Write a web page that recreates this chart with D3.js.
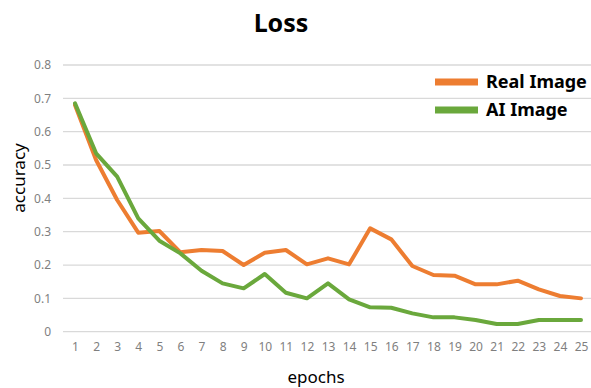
<!DOCTYPE html>
<html><head><meta charset="utf-8">
<script src="https://cdn.jsdelivr.net/npm/d3@7"></script>
<style>
html,body{margin:0;padding:0;background:#fff;}
svg{display:block;}
</style></head>
<body>
<svg id="chart" width="591" height="388"></svg>
<script>
const epochs = [1,2,3,4,5,6,7,8,9,10,11,12,13,14,15,16,17,18,19,20,21,22,23,24,25];
const realImage = [0.68,0.515,0.395,0.297,0.302,0.238,0.245,0.242,0.200,0.237,0.245,0.202,0.220,0.202,0.310,0.277,0.197,0.170,0.168,0.142,0.142,0.153,0.127,0.107,0.100];
const aiImage = [0.685,0.535,0.465,0.340,0.273,0.235,0.183,0.145,0.130,0.173,0.117,0.100,0.145,0.097,0.073,0.072,0.055,0.043,0.043,0.035,0.023,0.023,0.035,0.035,0.035];
const yTicks = [0,0.1,0.2,0.3,0.4,0.5,0.6,0.7,0.8];
const seriesNames = ["Real Image","AI Image"];
const seriesColors = ["#ED7D31","#6AA83C"];

const svg = d3.select("#chart");
const x = d3.scaleLinear().domain([1,25]).range([75,581]);
const y = d3.scaleLinear().domain([0,0.8]).range([331.7,65]);
const font = "'Malgun Gothic','Noto Sans','Open Sans',sans-serif";

// gridlines
svg.append("g").selectAll("line").data(yTicks).join("line")
  .attr("x1",63).attr("x2",591)
  .attr("y1",d=>y(d)).attr("y2",d=>y(d))
  .attr("stroke","#d9d9d9").attr("stroke-width",1.3);

// y axis labels
const yAxis = d3.axisLeft(y).tickValues(yTicks).tickSize(0).tickPadding(0).tickFormat(d=>d===0?"0":d3.format(".1f")(d));
const gy = svg.append("g").attr("transform","translate(51,0)").call(yAxis);
gy.select(".domain").remove();
gy.selectAll("text").attr("fill","#7f7f7f").style("font-family",font).style("font-size","12px");

// x axis labels
const xAxis = d3.axisBottom(x).tickValues(epochs).tickSize(0).tickPadding(0).tickFormat(d3.format("d"));
const gx = svg.append("g").attr("transform","translate(0,342)").call(xAxis);
gx.select(".domain").remove();
gx.selectAll("text").attr("fill","#7f7f7f").style("font-family",font).style("font-size","12px");

// lines
const line = d3.line().x((d,i)=>x(epochs[i])).y(d=>y(d));
[realImage, aiImage].forEach((s,k)=>{
  svg.append("path").datum(s).attr("d",line)
    .attr("fill","none").attr("stroke",seriesColors[k])
    .attr("stroke-width",4).attr("stroke-linejoin","round").attr("stroke-linecap","round");
});

// title
svg.append("text").attr("x",281).attr("y",32).attr("text-anchor","middle")
  .style("font-family",font).style("font-weight","bold").style("font-size","25px").attr("fill","#000").text("Loss");

// axis titles
svg.append("text").attr("x",316).attr("y",383).attr("text-anchor","middle")
  .style("font-family",font).style("font-size","17px").attr("fill","#000").text("epochs");
svg.append("text").attr("transform","translate(25,178) rotate(-90)").attr("text-anchor","middle")
  .style("font-family",font).style("font-size","17px").attr("fill","#000").text("accuracy");

// legend
seriesNames.forEach((n,k)=>{
  const ly = 82 + k*28;
  svg.append("line").attr("x1",435).attr("x2",478).attr("y1",ly).attr("y2",ly)
    .attr("stroke",seriesColors[k]).attr("stroke-width",7);
  svg.append("text").attr("x",486).attr("y",ly+6)
    .style("font-family",font).style("font-weight","bold").style("font-size","18px").attr("fill","#000").text(n);
});
</script>
</body></html>
